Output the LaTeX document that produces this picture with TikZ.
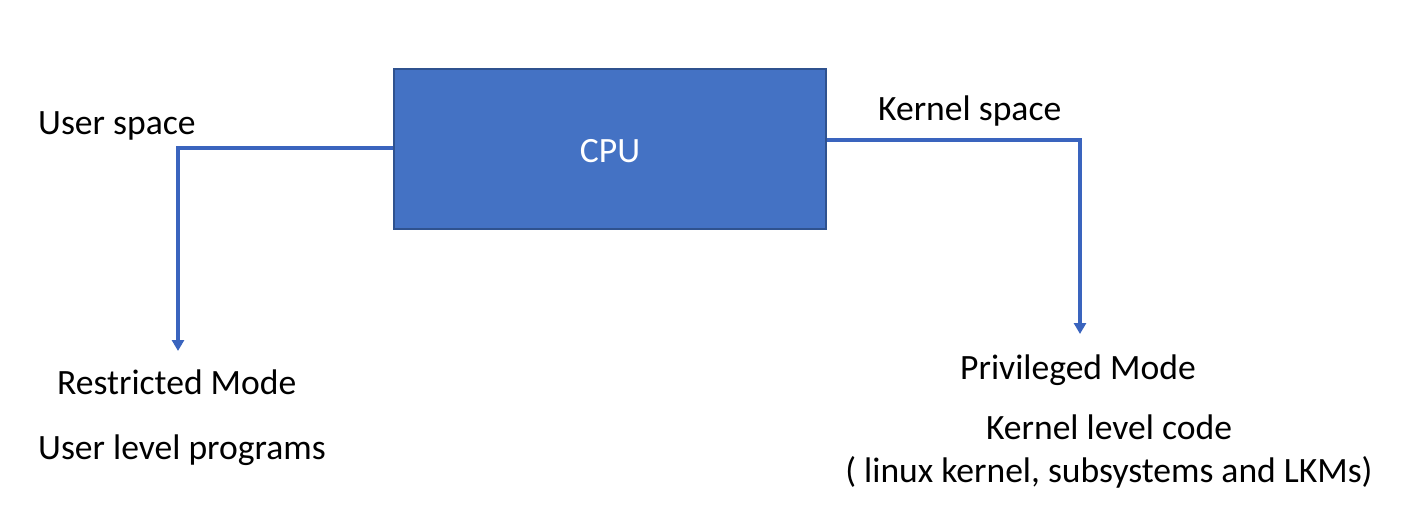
\documentclass[tikz,border=0pt]{standalone}
\usepackage{fontspec}
\setmainfont{Carlito}
\usetikzlibrary{arrows.meta}
\definecolor{boxfill}{HTML}{4472C4}
\definecolor{boxedge}{HTML}{2F528F}
\definecolor{linkblue}{HTML}{3A64BE}
\begin{document}
\begin{tikzpicture}[x=1pt,y=-1pt,
  lbl/.style={inner sep=0pt,font=\fontsize{35.6}{42}\selectfont,text=black},
  link/.style={draw=linkblue,line width=3.5pt,-{Triangle[width=12pt,length=11pt]}},
  cpubox/.style={draw=boxedge,line width=1.5pt,fill=boxfill,minimum width=432pt,minimum height=160pt,inner sep=0pt,font=\fontsize{35.6}{42}\selectfont,text=white}]
\useasboundingbox (0,0) rectangle (1414,519);
\node[cpubox] (cpu) at (610,149) {};
\node[lbl,text=white,anchor=base] (cputxt) at (610,162) {CPU};
\node[lbl,anchor=base west] (us) at (38,134) {User space};
\node[lbl,anchor=base west] (ks) at (878,121) {Kernel space};
\node[lbl,anchor=base west] (rm) at (57,394) {Restricted Mode};
\node[lbl,anchor=base west] (ulp) at (38,459) {User level programs};
\node[lbl,anchor=base] (pm) at (1078,379) {Privileged Mode};
\node[lbl,anchor=base] (klc) at (1109,439) {Kernel level code};
\node[lbl,anchor=base] (lk) at (1109,482) {( linux kernel, subsystems and LKMs)};
\coordinate (lend) at (178,351);
\coordinate (rend) at (1080,334);
\draw[link] (cpu.west |- 0,148) -| (lend);
\draw[link] (cpu.east |- 0,140) -| (rend);
\end{tikzpicture}
\end{document}
